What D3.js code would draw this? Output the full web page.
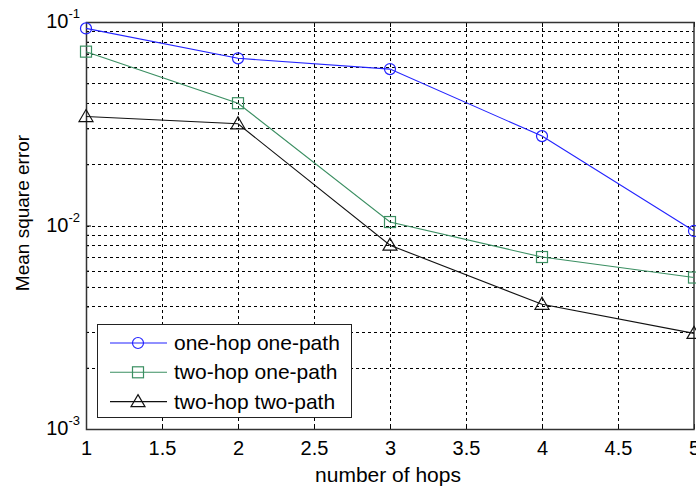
<!DOCTYPE html>
<html lang="en">
<head>
    <meta charset="UTF-8">
    <title>Mean square error vs hops</title>
    <script src="https://d3js.org/d3.v7.min.js"></script>
    <style>
        body {margin: 0; background: white;}
        svg {display: block;}
        text {font-family: "Liberation Sans", Arial, sans-serif; fill: black;}
    </style>
</head>
<body>
<script>
    const width = 696;
    const height = 486;

    // data
    const hops = [1, 2, 3, 4, 5];
    const oneHopOnePath = [0.093, 0.0663, 0.0587, 0.0275, 0.0094];
    const twoHopOnePath = [0.0715, 0.0399, 0.0104, 0.0070, 0.00555];
    const twoHopTwoPath = [0.0343, 0.0316, 0.0080, 0.0041, 0.00295];
    const seriesNames = ["one-hop one-path", "two-hop one-path", "two-hop two-path"];
    const xTicks = [1, 1.5, 2, 2.5, 3, 3.5, 4, 4.5, 5];
    const yDecades = [-3, -2, -1];

    const margin = {left: 86, top: 22, right: 2, bottom: 57};

    const svg = d3.select("body").append("svg")
            .attr("width", width).attr("height", height);

    const x = d3.scaleLinear().domain([1, 5]).range([margin.left, width - margin.right]);
    const y = d3.scaleLog().domain([1e-3, 1e-1]).range([height - margin.bottom, margin.top]);

    const x0 = x.range()[0], x1 = x.range()[1];
    const y0 = y.range()[0], y1 = y.range()[1];

    // grid: major x, major+minor y (log)
    const yGrid = [];
    for (let e = -3; e < -1; e++) {
        for (let m = 1; m < 10; m++) yGrid.push(m * Math.pow(10, e));
    }

    const grid = svg.append("g").attr("class", "grid")
            .style("stroke", "black").style("stroke-width", 1)
            .style("stroke-dasharray", "3 3").style("shape-rendering", "crispEdges");

    grid.selectAll("line.vx").data(xTicks.slice(1, -1)).enter()
            .append("line").attr("class", "vx")
            .attr("x1", d => Math.round(x(d)) + 0.5).attr("x2", d => Math.round(x(d)) + 0.5)
            .attr("y1", y1).attr("y2", y0);

    grid.selectAll("line.hy").data(yGrid.slice(1)).enter()
            .append("line").attr("class", "hy")
            .attr("x1", x0).attr("x2", x1)
            .attr("y1", d => Math.round(y(d)) + 0.5).attr("y2", d => Math.round(y(d)) + 0.5);

    // axes box with inward ticks
    const xAxis = d3.axisBottom(x).tickValues(xTicks).tickSizeInner(-5).tickSizeOuter(0)
            .tickPadding(12).tickFormat(d3.format("~g"));
    const gx = svg.append("g").attr("transform", `translate(0,${y0})`).call(xAxis);
    gx.select(".domain").remove();
    gx.selectAll("text").style("font-size", "20px");

    const xTop = d3.axisTop(x).tickValues(xTicks).tickSizeInner(-5).tickSizeOuter(0).tickFormat("");
    svg.append("g").attr("transform", `translate(0,${y1})`).call(xTop).select(".domain").remove();

    const yAxis = d3.axisLeft(y).tickValues(yGrid.concat([0.1])).tickSizeOuter(0).tickFormat("")
            .tickSize(-5);
    const gy = svg.append("g").attr("transform", `translate(${x0},0)`).call(yAxis);
    gy.select(".domain").remove();
    gy.selectAll(".tick line").attr("x2", d => Number.isInteger(Math.round(Math.log10(d) * 1000) / 1000) ? 5 : 3);

    svg.selectAll("g .tick line").style("stroke", "black");

    // y tick labels 10^n
    const yLabels = svg.append("g");
    yDecades.forEach(function(e) {
        const t = yLabels.append("text")
                .attr("x", x0 - 6).attr("y", y(Math.pow(10, e)) + 6)
                .attr("text-anchor", "end").style("font-size", "20px");
        t.append("tspan").text("10");
        t.append("tspan").attr("dy", -10).style("font-size", "13px").text(e);
    });

    svg.append("rect")
            .attr("x", x0 + 0.5).attr("y", y1 + 0.5)
            .attr("width", x1 - x0 - 0.5).attr("height", y0 - y1)
            .style("fill", "none").style("stroke", "#333").style("stroke-width", 1.5);

    // series
    const series = [
        {name: seriesNames[0], values: oneHopOnePath, color: "#2323ff", marker: "circle"},
        {name: seriesNames[1], values: twoHopOnePath, color: "#3b8f62", marker: "square"},
        {name: seriesNames[2], values: twoHopTwoPath, color: "#111111", marker: "triangle"}
    ];

    const line = d3.line().x(d => x(d[0])).y(d => y(d[1]));

    function drawMarker(g, type, color) {
        if (type === "circle") {
            g.append("circle").attr("r", 5.5);
        } else if (type === "square") {
            g.append("rect").attr("x", -5.5).attr("y", -5.5).attr("width", 11).attr("height", 11);
        } else {
            g.append("path").attr("d", "M0,-7L7,5L-7,5Z");
        }
        g.selectAll("*").style("fill", "none").style("stroke", color).style("stroke-width", 1.2);
    }

    series.forEach(function(s) {
        const pts = hops.map((h, i) => [h, s.values[i]]);
        svg.append("path").datum(pts)
                .attr("d", line)
                .style("fill", "none").style("stroke", s.color).style("stroke-width", 1.1);
        pts.forEach(function(p) {
            const g = svg.append("g").attr("transform", `translate(${x(p[0])},${y(p[1])})`);
            drawMarker(g, s.marker, s.color);
        });
    });

    // legend
    const legend = svg.append("g").attr("transform", "translate(97,324)");
    legend.append("rect").attr("x", 0.5).attr("y", 0.5).attr("width", 254).attr("height", 93)
            .style("fill", "white").style("stroke", "#222").style("stroke-width", 1);
    series.forEach(function(s, i) {
        const ly = 19 + i * 29.3;
        legend.append("line").attr("x1", 13).attr("x2", 70).attr("y1", ly).attr("y2", ly)
                .style("stroke", s.color).style("stroke-width", 1.1);
        drawMarker(legend.append("g").attr("transform", `translate(41,${ly})`), s.marker, s.color);
        legend.append("text").attr("x", 77).attr("y", ly + 7).style("font-size", "21px").text(s.name);
    });

    // axis titles
    svg.append("text").attr("x", (x0 + x1) / 2 - 2).attr("y", 482)
            .attr("text-anchor", "middle").style("font-size", "21px").text("number of hops");
    svg.append("text").attr("transform", `translate(29,213) rotate(-90)`)
            .attr("text-anchor", "middle").style("font-size", "19px").text("Mean square error");
</script>
</body>
</html>
